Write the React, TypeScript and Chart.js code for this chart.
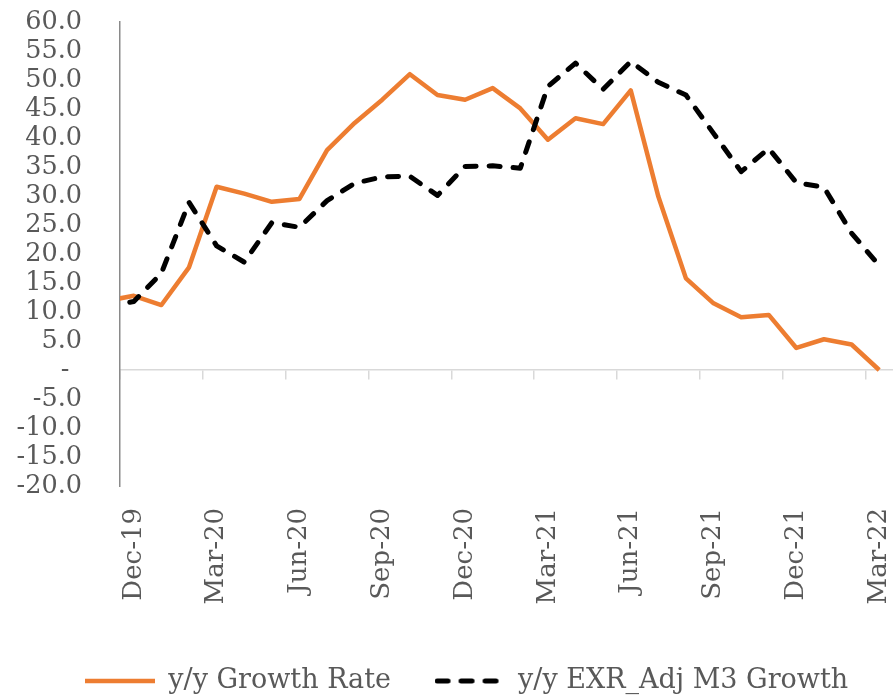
import React, { useEffect, useRef } from 'react';
import { Chart, registerables } from 'chart.js';

Chart.register(...registerables);

// Monthly points (mid-month); Nov-19 sits just left of the axis and is clipped
const months = [
  'Nov-19', 'Dec-19', 'Jan-20', 'Feb-20', 'Mar-20', 'Apr-20', 'May-20', 'Jun-20', 'Jul-20',
  'Aug-20', 'Sep-20', 'Oct-20', 'Nov-20', 'Dec-20', 'Jan-21', 'Feb-21', 'Mar-21', 'Apr-21',
  'May-21', 'Jun-21', 'Jul-21', 'Aug-21', 'Sep-21', 'Oct-21', 'Nov-21', 'Dec-21', 'Jan-22',
  'Feb-22', 'Mar-22',
];

const growthRate = [
  11.9, 12.8, 11.2, 17.7, 31.6, 30.4, 29.0, 29.5, 37.9, 42.6, 46.6, 51.0, 47.4, 46.6, 48.6,
  45.1, 39.7, 43.4, 42.4, 48.2, 29.9, 15.8, 11.5, 9.1, 9.5, 3.8, 5.3, 4.4, 0.0,
];

const exrAdjM3Growth = [
  10.9, 11.8, 16.7, 28.9, 21.4, 18.6, 25.4, 24.6, 29.2, 32.2, 33.3, 33.4, 30.1, 35.1, 35.2,
  34.8, 48.9, 52.9, 48.4, 53.2, 49.6, 47.4, 40.8, 34.2, 38.2, 32.3, 31.5, 23.6, 18.0,
];

const tickLabels = ['Dec-19', 'Mar-20', 'Jun-20', 'Sep-20', 'Dec-20', 'Mar-21', 'Jun-21', 'Sep-21', 'Dec-21', 'Mar-22'];

const seriesNames = ['y/y Growth Rate', 'y/y EXR_Adj M3 Growth'];

const FONT = 'DejaVu Serif';
const TEXT = '#595959';
const ORANGE = '#ED7D31';
const DASH = [11, 13];

function lineSample(color: string, width: number, dash: number[] | null) {
  const c = document.createElement('canvas');
  c.width = 70;
  c.height = 10;
  const g = c.getContext('2d')!;
  g.strokeStyle = color;
  g.lineWidth = width;
  if (dash) {
    g.setLineDash(dash);
    g.lineCap = 'round';
    g.beginPath();
    g.moveTo(2.5, 5);
    g.lineTo(70, 5);
  } else {
    g.lineCap = 'butt';
    g.beginPath();
    g.moveTo(0, 5);
    g.lineTo(70, 5);
  }
  g.stroke();
  return c;
}

export default function App() {
  const ref = useRef<HTMLCanvasElement | null>(null);

  useEffect(() => {
    if (!ref.current) return;
    const toXY = (arr: number[]) => arr.map((v, i) => ({ x: i - 0.5, y: v }));
    const nMonths = months.length - 1; // Dec-19 .. Mar-22 = 28 months

    const samples = [lineSample(ORANGE, 4.5, null), lineSample('#000000', 5, DASH)];

    const legendShift = {
      id: 'legendShift',
      afterLayout(chart: any) {
        const l = chart.legend;
        if (l) {
          l.left += 20;
          l.right += 20;
          l.top += 8.5;
          l.bottom += 8.5;
        }
      },
    };

    const chart = new Chart(ref.current, {
      type: 'line',
      data: {
        datasets: [
          {
            label: seriesNames[0],
            data: toXY(growthRate),
            borderColor: ORANGE,
            backgroundColor: ORANGE,
            borderWidth: 4.5,
            pointRadius: 0,
            tension: 0,
            borderJoinStyle: 'round',
            order: 1,
          },
          {
            label: seriesNames[1],
            data: toXY(exrAdjM3Growth),
            borderColor: '#000000',
            backgroundColor: '#000000',
            borderWidth: 5,
            borderDash: DASH,
            borderCapStyle: 'round',
            borderJoinStyle: 'round',
            pointRadius: 0,
            tension: 0,
            order: 0,
          },
        ],
      },
      options: {
        responsive: false,
        animation: false,
        devicePixelRatio: 1,
        layout: { padding: { top: 22, left: 0, right: 0, bottom: 0 } },
        plugins: {
          tooltip: { enabled: false },
          legend: {
            position: 'bottom',
            labels: {
              font: { family: FONT, size: 27 },
              color: TEXT,
              usePointStyle: true,
              pointStyleWidth: 70,
              padding: 43.5,
              sort: (a: any, b: any) => a.datasetIndex - b.datasetIndex,
              generateLabels: (ch: any) => {
                const items = (Chart as any).defaults.plugins.legend.labels.generateLabels(ch);
                items.forEach((it: any) => {
                  it.pointStyle = samples[it.datasetIndex];
                });
                return items;
              },
            },
          },
        },
        scales: {
          x: {
            type: 'linear',
            position: 'bottom',
            min: 0,
            max: nMonths,
            grid: { display: false, drawTicks: false },
            border: { display: false },
            afterBuildTicks: (scale: any) => {
              scale.ticks = tickLabels.map((_, i) => ({ value: i * 3 + 0.5 }));
            },
            afterFit: (scale: any) => {
              scale.height = 129.5;
              scale.paddingLeft = 0;
              scale.paddingRight = 0;
            },
            ticks: {
              autoSkip: false,
              minRotation: 90,
              maxRotation: 90,
              padding: 22,
              font: { family: FONT, size: 26 },
              color: TEXT,
              callback: (_v: any, i: number) => tickLabels[i],
            },
          },
          xTicks: {
            type: 'linear',
            axis: 'x',
            position: { y: 0 },
            min: 0,
            max: nMonths,
            afterBuildTicks: (scale: any) => {
              scale.ticks = tickLabels.map((_, i) => ({ value: i * 3 }));
            },
            afterFit: (scale: any) => {
              scale.paddingLeft = 0;
              scale.paddingRight = 0;
            },
            ticks: { display: false },
            grid: {
              display: true,
              drawOnChartArea: false,
              drawTicks: true,
              tickLength: 9,
              color: '#d9d9d9',
              lineWidth: 1.5,
            },
            border: { display: true, color: '#d9d9d9', width: 1.5 },
          },
          y: {
            type: 'linear',
            min: -20,
            max: 60,
            afterFit: (scale: any) => {
              scale.width = 120;
              scale.paddingTop = 0;
              scale.paddingBottom = 0;
            },
            ticks: {
              stepSize: 5,
              autoSkip: false,
              padding: 38,
              font: { family: FONT, size: 25.5 },
              color: TEXT,
              callback: (v: any) => (Number(v) === 0 ? '-\u2002' : Number(v).toFixed(1)),
            },
            grid: { display: false, drawTicks: false },
            border: { display: true, color: '#8a8a8a', width: 1.5 },
          },
        },
      },
      plugins: [legendShift],
    } as any);

    return () => chart.destroy();
  }, []);

  return (
    <div style={{ position: 'absolute', left: 0, top: 0, width: 893, height: 696, background: '#fff' }}>
      <canvas ref={ref} width={893} height={696} style={{ display: 'block' }} />
    </div>
  );
}
